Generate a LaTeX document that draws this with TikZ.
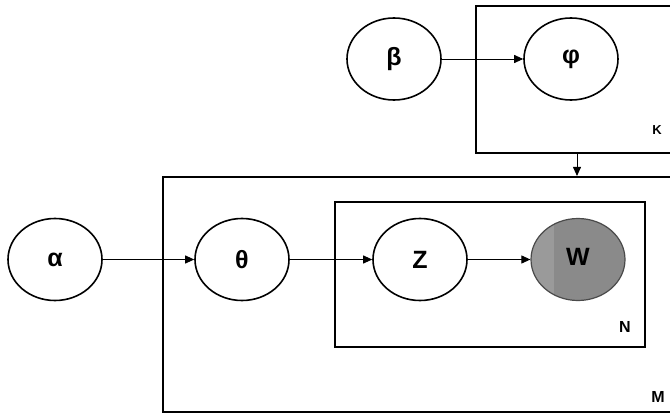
\documentclass[tikz,border=0pt]{standalone}
\usepackage{fontspec}
\setmainfont{Liberation Sans}
\usetikzlibrary{arrows.meta,shapes.geometric}
\definecolor{obsdark}{HTML}{8A8A8A}
\definecolor{obslight}{HTML}{9A9A9A}
\definecolor{obsrim}{HTML}{4A4A4A}
\begin{document}
\begin{tikzpicture}[x=1pt,y=-1pt,
  var/.style={ellipse,draw,line width=1.6pt,minimum width=94pt,minimum height=82pt,
              inner sep=0pt,font=\bfseries\fontsize{25}{25}\selectfont},
  plate/.style={draw,line width=2.1pt,inner sep=0pt},
  platelabel/.style={font=\bfseries\fontsize{16}{16}\selectfont,inner sep=0pt},
  arr/.style={line width=0.9pt,-{Triangle[length=9pt,width=8pt]}}]
\useasboundingbox (0,0) rectangle (670,415);
\clip (0,0) rectangle (670,415);

% plates
\node[plate,minimum width=197pt,minimum height=147pt] (K) at (574.5,79.5) {};
\node[plate,minimum width=510pt,minimum height=235pt] (M) at (418,294.5) {};
\node[plate,minimum width=310pt,minimum height=145pt] (N) at (490,274.5) {};

\node[platelabel] (Klab) at (657,130) {\fontsize{13}{13}\selectfont K};
\node[platelabel] (Nlab) at (625,327) {N};
\node[platelabel] (Mlab) at (658,397) {M};

% observed word node, two-tone grey fill
\begin{scope}
  \clip (578,259.5) ellipse (47pt and 41pt);
  \fill[obsdark] (530,215) rectangle (630,305);
  \fill[obslight] (530,215) rectangle (554,305);
\end{scope}

% random variables
\node[var] (beta)  at (394,59)    {β};
\node[var] (phi)   at (571,59)    {φ};
\node[var] (alpha) at (55,259.5)  {α};
\node[var] (theta) at (242,259.5) {θ};
\node[var] (z)     at (420,259.5) {Z};
\node[var,draw=obsrim,line width=1.2pt] (w) at (578,259.5) {\raisebox{6pt}{W}};

% dependencies
\draw[arr] (beta) -- (phi);
\draw[arr] (alpha) -- (theta);
\draw[arr] (theta) -- (z);
\draw[arr] (z) -- (w);
\coordinate (kdrop) at (577,0);
\draw[arr] (kdrop |- K.south) -- (kdrop |- M.north);
\end{tikzpicture}
\end{document}
